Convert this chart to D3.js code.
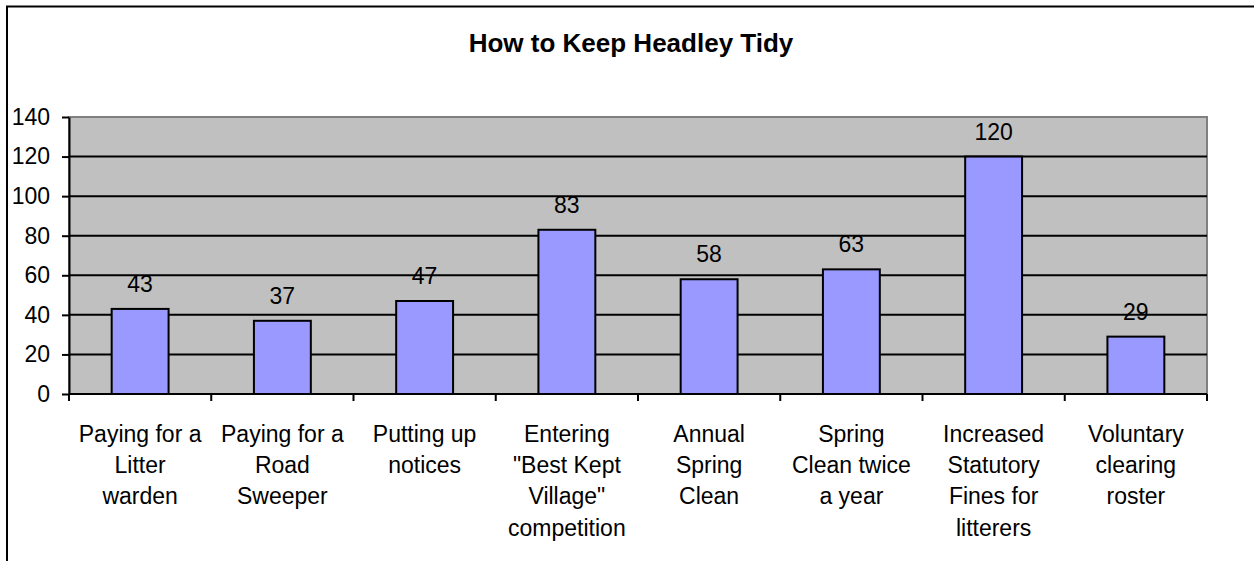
<!DOCTYPE html>
<html>
<head>
<meta charset="utf-8">
<script src="https://cdn.jsdelivr.net/npm/d3@7"></script>
<style>
  body { margin: 0; background: #fff; }
  text { font-family: Arial, "Liberation Sans", sans-serif; }
</style>
</head>
<body>
<svg id="chart"></svg>
<script>
'use strict';
const categories = [
  ['Paying for a', 'Litter', 'warden'],
  ['Paying for a', 'Road', 'Sweeper'],
  ['Putting up', 'notices'],
  ['Entering', '"Best Kept', 'Village"', 'competition'],
  ['Annual', 'Spring', 'Clean'],
  ['Spring', 'Clean twice', 'a year'],
  ['Increased', 'Statutory', 'Fines for', 'litterers'],
  ['Voluntary', 'clearing', 'roster']
];
const values = [43, 37, 47, 83, 58, 63, 120, 29];
const yTicks = [0, 20, 40, 60, 80, 100, 120, 140];

const WIDTH = 1254, HEIGHT = 561;
const FONT = 23;
const plot = { left: 69, right: 1207, top: 117, bottom: 394 };

let svg = d3.select('#chart').attr('width', WIDTH).attr('height', HEIGHT);

// outer frame (cropped on the right and bottom)
svg.append('path')
  .attr('d', 'M7,' + HEIGHT + ' V6.5 H' + WIDTH)
  .attr('fill', 'none')
  .attr('stroke', '#000')
  .attr('stroke-width', 2);

svg.append('text')
  .attr('x', 631).attr('y', 52)
  .attr('text-anchor', 'middle')
  .attr('font-size', 26)
  .attr('font-weight', 'bold')
  .text('How to Keep Headley Tidy');

let xScale = d3.scaleBand().domain(d3.range(categories.length))
  .range([plot.left, plot.right]).paddingInner(0.6).paddingOuter(0.3);
let xOuter = d3.scaleBand().domain(d3.range(categories.length))
  .range([plot.left, plot.right]);
let yScale = d3.scaleLinear().domain([0, 140]).range([plot.bottom, plot.top]);

svg.append('rect')
  .attr('x', plot.left).attr('y', plot.top)
  .attr('width', plot.right - plot.left).attr('height', plot.bottom - plot.top)
  .attr('fill', '#c0c0c0')
  .attr('stroke', '#808080')
  .attr('stroke-width', 2);

// value labels (under the gridlines, as in the original)
svg.append('g').selectAll('text')
  .data(values)
  .enter().append('text')
  .attr('x', (d, i) => xScale(i) + xScale.bandwidth() / 2)
  .attr('y', d => yScale(d) - 17)
  .attr('text-anchor', 'middle')
  .attr('font-size', FONT)
  .text(d => d);

// gridlines
svg.append('g').selectAll('line')
  .data(yTicks.filter(t => t > 0 && t < 140))
  .enter().append('line')
  .attr('x1', plot.left).attr('x2', plot.right)
  .attr('y1', d => yScale(d)).attr('y2', d => yScale(d))
  .attr('stroke', '#000').attr('stroke-width', 2);

// y axis
let yAxis = svg.append('g')
  .attr('transform', 'translate(' + plot.left + ',0)')
  .call(d3.axisLeft(yScale).tickValues(yTicks).tickSize(7).tickPadding(12).tickSizeOuter(0));
yAxis.select('.domain').attr('stroke-width', 2);
yAxis.selectAll('.tick line').attr('stroke-width', 2);
yAxis.selectAll('text').attr('font-size', FONT).attr('fill', '#000')
  .attr('font-family', 'Arial, "Liberation Sans", sans-serif');

// bars
svg.append('g').selectAll('rect')
  .data(values)
  .enter().append('rect')
  .attr('x', (d, i) => xScale(i))
  .attr('width', xScale.bandwidth())
  .attr('y', d => yScale(d))
  .attr('height', d => yScale(0) - yScale(d))
  .attr('fill', '#9999ff')
  .attr('stroke', '#000')
  .attr('stroke-width', 2);

// x axis
let xAxis = svg.append('g')
  .attr('transform', 'translate(0,' + plot.bottom + ')');
xAxis.append('line')
  .attr('x1', plot.left).attr('x2', plot.right)
  .attr('stroke', '#000').attr('stroke-width', 2);
xAxis.selectAll('line.tick')
  .data(d3.range(categories.length + 1))
  .enter().append('line')
  .attr('class', 'tick')
  .attr('x1', i => plot.left + i * xOuter.step())
  .attr('x2', i => plot.left + i * xOuter.step())
  .attr('y1', 0).attr('y2', 7)
  .attr('stroke', '#000').attr('stroke-width', 2);

let catLabel = svg.append('g').selectAll('text')
  .data(categories)
  .enter().append('text')
  .attr('text-anchor', 'middle')
  .attr('font-size', FONT);
catLabel.selectAll('tspan')
  .data((d, i) => d.map(line => ({ line: line, i: i })))
  .enter().append('tspan')
  .attr('x', d => xOuter(d.i) + xOuter.bandwidth() / 2)
  .attr('y', (d, j) => 442 + j * 31.2)
  .text(d => d.line);
</script>
</body>
</html>
